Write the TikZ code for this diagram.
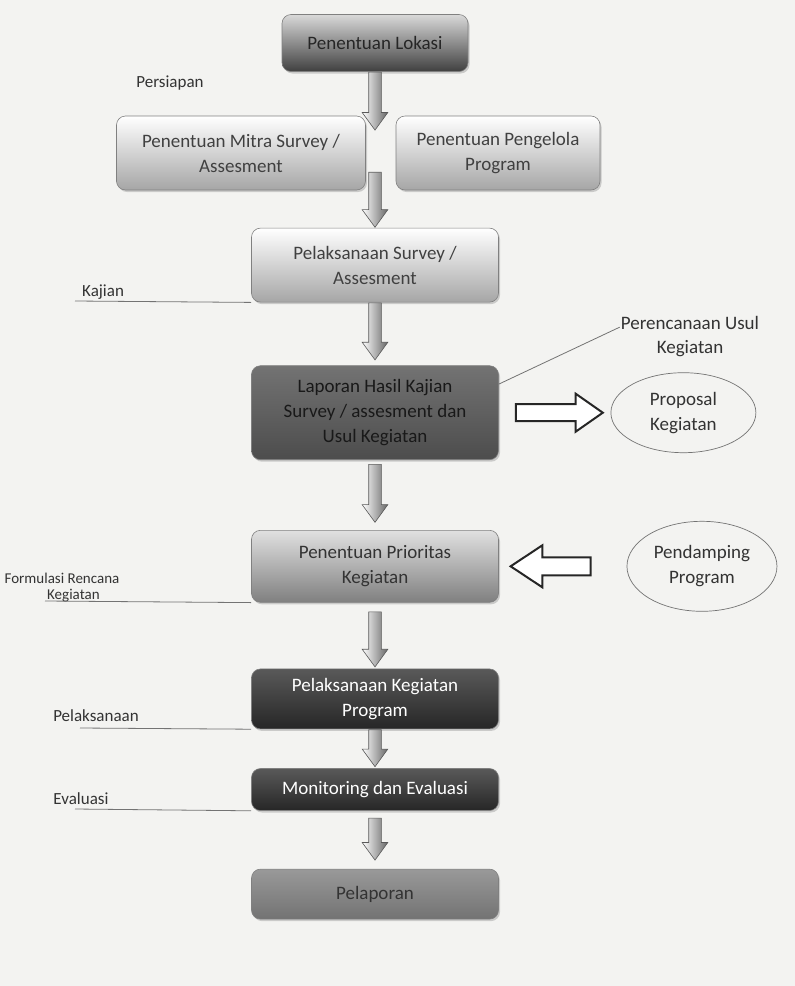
\documentclass[tikz,border=0pt]{standalone}
\usepackage{fontspec}
\setmainfont{Carlito}
\usetikzlibrary{positioning, shapes, shadows}
\definecolor{paper}{HTML}{F3F3F1}

\begin{document}
\begin{tikzpicture}[x=1pt, y=1pt,
mybox/.style={rectangle,
  rounded corners=9pt,
  draw=black!50,
  line width=0.6pt,
  align=center,
  inner sep=2pt,
  minimum width=247pt,
  font=\fontsize{19}{25}\selectfont,
  drop shadow={opacity=0.35, shadow xshift=1.5pt, shadow yshift=-2pt}
},
lightbox/.style={mybox, top color=white, bottom color=black!35, text=black!75},
darkbox/.style={mybox, top color=black!15, bottom color=black!75, text=black!85},
midbox/.style={mybox, top color=black!55, middle color=black!28, bottom color=black!70, text=black!90},
greybox/.style={mybox, top color=black!12, bottom color=black!50, text=black!80},
nightbox/.style={mybox, top color=black!65, bottom color=black!85, text=white},
myarrow/.style={single arrow,
  shape border rotate=270,
  draw=black!65,
  line width=0.6pt,
  left color=white,
  right color=black!60,
  single arrow head extend=6.5pt,
  single arrow tip angle=72,
  inner sep=6pt
},
hollowarrow/.style={single arrow,
  draw=black!85,
  line width=2pt,
  fill=white
},
myellipse/.style={ellipse,
  draw=black!55,
  line width=0.7pt,
  align=center,
  text=black!80,
  font=\fontsize{19}{25}\selectfont
},
mylabel/.style={text=black!80, inner sep=1pt, align=center, font=\fontsize{17}{21}\selectfont},
myline/.style={draw=black!55, line width=0.8pt}
]
\useasboundingbox[fill=paper] (0,0) rectangle (795,-986);

\node[darkbox, minimum width=186pt, minimum height=57pt] (lokasi) at (375,-43)
    {Penentuan Lokasi};
\node[lightbox, minimum width=249pt, minimum height=74pt] (mitra) at (241,-153)
    {Penentuan Mitra Survey /\\Assesment};
\node[lightbox, minimum width=204pt, minimum height=74pt] (pengelola) at (498,-153)
    {Penentuan Pengelola\\Program};
\node[lightbox, minimum height=74pt, below=156pt of lokasi] (survey)
    {Pelaksanaan Survey /\\Assesment};
\node[midbox, minimum height=94pt, below=63pt of survey] (laporan)
    {Laporan Hasil Kajian\\Survey / assesment dan\\Usul Kegiatan};
\node[greybox, minimum height=72pt, below=70pt of laporan] (prioritas)
    {Penentuan Prioritas\\Kegiatan};
\node[nightbox, minimum height=60pt, below=66pt of prioritas] (pelaksanaan)
    {Pelaksanaan Kegiatan\\Program};
\node[nightbox, minimum height=42pt, below=39pt of pelaksanaan] (monev)
    {Monitoring dan Evaluasi};
\node[greybox, top color=black!40, bottom color=black!55, minimum height=50pt, below=58pt of monev] (pelaporan)
    {Pelaporan};

\node[myarrow, minimum height=58pt, below=0pt of lokasi] (a1) {};
\node[myarrow, minimum height=55pt, above=0pt of survey] (a2) {};
\node[myarrow, minimum height=57pt, above=5pt of laporan] (a3) {};
\node[myarrow, minimum height=58pt, below=4pt of laporan] (a4) {};
\node[myarrow, minimum height=55pt, below=9pt of prioritas] (a5) {};
\node[myarrow, minimum height=37pt, above=1pt of monev] (a6) {};
\node[myarrow, minimum height=42pt, below=7pt of monev] (a7) {};

\node[hollowarrow, minimum height=87pt, inner sep=7.5pt,
  single arrow head extend=10.5pt, single arrow tip angle=70,
  right=16pt of laporan] (ra) {};
\node[myellipse, minimum width=145pt, minimum height=80pt, right=6pt of ra] (proposal)
    {Proposal\\Kegiatan};
\node[hollowarrow, shape border rotate=180, minimum height=80pt, inner sep=8pt,
  single arrow head extend=12pt, single arrow tip angle=67,
  right=10pt of prioritas] (la) {};
\node[myellipse, minimum width=150pt, minimum height=90pt, right=35pt of la] (pendamping)
    {Pendamping\\Program};

\node[mylabel] (persiapan) at (170,-83) {Persiapan};

\coordinate (kaj) at (75,-301);
\node[mylabel, above right=0pt and 6pt of kaj] (kajian) {Kajian};
\draw[myline] (kaj) -- (survey.south west);

\node[mylabel, font=\fontsize{19}{24}\selectfont] (perencanaan) at (690,-337)
    {Perencanaan Usul\\Kegiatan};
\draw[myline] (laporan.13) -- (perencanaan.172);

\coordinate (form) at (45,-601);
\node[mylabel, font=\fontsize{15}{18}\selectfont] (formulasi) at (62,-578) {Formulasi Rencana};
\node[mylabel, font=\fontsize{15}{18}\selectfont, above right=-2pt and 1pt of form] (kegiatan) {Kegiatan};
\draw[myline] (form) -- (prioritas.south west);

\coordinate (pel) at (80,-728);
\node[mylabel] (pelaksanaanlbl) at (96,-716) {Pelaksanaan};
\draw[myline] (pel) -- (pelaksanaan.south west);

\coordinate (eva) at (75,-809);
\node[mylabel] (evaluasi) at (81,-799) {Evaluasi};
\draw[myline] (eva) -- (monev.south west);
\end{tikzpicture}
\end{document}
